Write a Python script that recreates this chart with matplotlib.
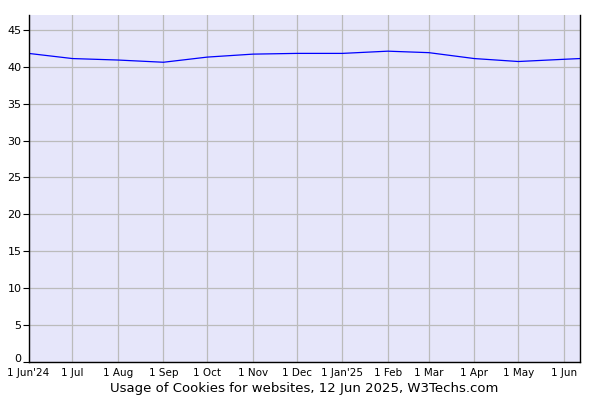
import matplotlib
matplotlib.use("Agg")
import matplotlib.pyplot as plt
import matplotlib.dates as mdates
from matplotlib.transforms import ScaledTranslation
from datetime import date

# Monthly readings, plus the last one on 12 Jun 2025
dates = [date(2024, 6, 1), date(2024, 7, 1), date(2024, 8, 1), date(2024, 9, 1),
         date(2024, 10, 1), date(2024, 11, 1), date(2024, 12, 1), date(2025, 1, 1),
         date(2025, 2, 1), date(2025, 3, 1), date(2025, 4, 1), date(2025, 5, 1),
         date(2025, 6, 1), date(2025, 6, 12)]
usage = [41.8, 41.1, 40.9, 40.6, 41.3, 41.7, 41.8, 41.8, 42.1, 41.9, 41.1, 40.7, 41.0, 41.1]

tick_dates = dates[:-1]
tick_labels = ["1 Jun'24", "1 Jul", "1 Aug", "1 Sep", "1 Oct", "1 Nov", "1 Dec",
               "1 Jan'25", "1 Feb", "1 Mar", "1 Apr", "1 May", "1 Jun"]
y_ticks = [0, 5, 10, 15, 20, 25, 30, 35, 40, 45]

fig = plt.figure(figsize=(6, 4), dpi=100)
ax = fig.add_axes([0.0475, 0.095, 0.919, 0.8675])
ax.set_facecolor("#E6E6FA")

ax.plot(dates, usage, color="#0000FF", linewidth=0.9)

ax.set_xlim(dates[0], dates[-1])
ax.set_ylim(0, 47)
ax.set_xticks([mdates.date2num(d) for d in tick_dates])
ax.set_xticklabels(tick_labels, family=["Liberation Sans Narrow", "DejaVu Sans"], fontsize=7.5)
ax.set_yticks(y_ticks)
ax.set_yticklabels([str(v) for v in y_ticks], fontsize=8)

ax.grid(True, color="#BBBBBB", linewidth=0.9)
ax.set_axisbelow(True)
ax.tick_params(axis="x", length=0, pad=4)
ax.tick_params(axis="y", length=4, width=0.8, pad=1)

# lift the "0" label a little so it sits clear of the first date
zero = ax.get_yticklabels()[0]
zero.set_transform(zero.get_transform() + ScaledTranslation(0, 3 / 72, fig.dpi_scale_trans))

ax.spines["top"].set_visible(False)
for s in ("left", "right", "bottom"):
    ax.spines[s].set_color("black")
    ax.spines[s].set_linewidth(1.0)

ax.set_xlabel("Usage of Cookies for websites, 12 Jun 2025, W3Techs.com", fontsize=9.5, labelpad=3)

fig.savefig("out.png", dpi=100)
